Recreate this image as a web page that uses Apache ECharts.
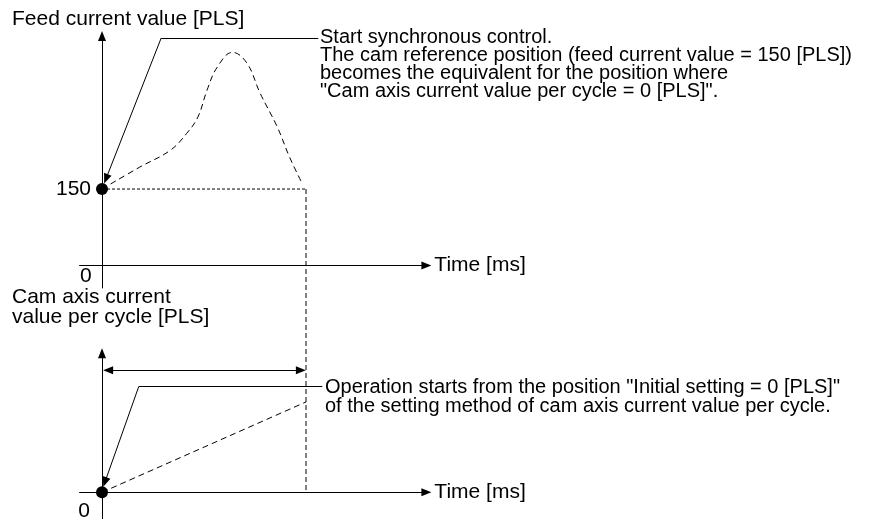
<!DOCTYPE html>
<html>
<head>
<meta charset="utf-8">
<script src="https://cdn.jsdelivr.net/npm/echarts@6/dist/echarts.min.js"></script>
<style>
  html, body { margin: 0; padding: 0; background: #fff; }
  #chart { width: 890px; height: 519px; }
</style>
</head>
<body>
<div id="chart"></div>
<script>
// time of one cam cycle and the feed value where sync starts
var cycleTime = 200;
var feedStart = 150;

// feed current value (dashed curve, upper chart)
var feedTime  = [0, 37, 67, 83, 94, 103, 113, 128, 142, 155, 172, 184, 196];
var feedValue = [150, 193, 226, 259, 291, 344, 389, 418, 397, 338, 271, 212, 162];

// cam axis current value per cycle (dashed line, lower chart)
var camTime  = [0, 200];
var camValue = [0, 100];

// tick labels
var feedTicks = [0, 150];
var camTicks = [0];

// callouts (data coords)
var feedNote = [[212, 446], [58, 446], [3.9, 170]];
var camNote = [[216, 117], [36, 117], [2.9, 11.4]];
var camSpan = [[6, 135], [195, 135]];

var FONT = 'Liberation Sans, Arial, sans-serif';
var black = '#000';

function zip(a, b) {
  var res = [];
  for (var i = 0; i < a.length; i++) res.push([a[i], b[i]]);
  return res;
}

function noteLines(pts) {
  return [
    [{ coord: pts[0], symbol: 'none' }, { coord: pts[1], symbol: 'none' }],
    [{ coord: pts[1], symbol: 'none' }, { coord: pts[2], symbol: 'triangle', symbolSize: [8, 10] }]
  ];
}

function axisX(grid) {
  return {
    type: 'value', gridIndex: grid, min: -22, max: 318,
    name: 'Time [ms]', nameLocation: 'end', nameGap: 8,
    nameTextStyle: { fontSize: 21, fontFamily: FONT, color: black, verticalAlign: 'middle' },
    axisLine: { onZero: true, symbol: ['none', 'triangle'], symbolSize: [8, 10], lineStyle: { color: black, width: 1 } },
    axisTick: { show: false }, axisLabel: { show: false }, splitLine: { show: false }
  };
}

function axisY(grid, min, max, zeroLabel) {
  return {
    type: 'value', gridIndex: grid, min: min, max: max,
    axisLine: { onZero: true, symbol: ['none', 'triangle'], symbolSize: [8, 10], lineStyle: { color: black, width: 1 } },
    axisTick: { show: false }, splitLine: { show: false },
    axisLabel: zeroLabel ? {
      show: true, customValues: [zeroLabel[0]], margin: -12, verticalAlign: 'top',
      fontSize: 21, fontFamily: FONT, color: black
    } : { show: false }
  };
}

var labelStyle = { fontSize: 21, fontFamily: FONT, color: black };

var chart = echarts.init(document.getElementById('chart'), null, { renderer: 'canvas' });

var option = {
  animation: false,
  backgroundColor: '#fff',
  grid: [
    { left: 79.56, top: 36, width: 346.8, height: 252, outerBoundsMode: 'none' },
    { left: 79.56, top: 353.2, width: 346.8, height: 166.2, outerBoundsMode: 'none' }
  ],
  xAxis: [axisX(0), axisX(1)],
  yAxis: [axisY(0, -44, 450, feedTicks), axisY(1, -30, 154, null)],
  graphic: [
    { type: 'text', x: 12, y: 19, style: { text: 'Feed current value [PLS]', font: '21px ' + FONT, fill: black, verticalAlign: 'middle' } },
    { type: 'text', x: 12, y: 287, style: { text: 'Cam axis current\nvalue per cycle [PLS]', font: '21px ' + FONT, fill: black, lineHeight: 20, verticalAlign: 'top' } },
    { type: 'text', x: 320, y: 28.7, style: {
      text: 'Start synchronous control.\nThe cam reference position (feed current value = 150 [PLS])\nbecomes the equivalent for the position where\n"Cam axis current value per cycle = 0 [PLS]".',
      font: '20px ' + FONT, fill: black, lineHeight: 18, verticalAlign: 'top' } },
    { type: 'text', x: 325, y: 377.5, style: {
      text: 'Operation starts from the position "Initial setting = 0 [PLS]"\nof the setting method of cam axis current value per cycle.',
      font: '20px ' + FONT, fill: black, lineHeight: 19, verticalAlign: 'top' } }
  ],
  series: [
    {
      type: 'line', xAxisIndex: 0, yAxisIndex: 0, smooth: 0.4, symbol: 'none',
      data: zip(feedTime, feedValue),
      lineStyle: { color: black, width: 1, type: [6, 4] },
      markLine: {
        silent: true, animation: false, label: { show: false },
        lineStyle: { color: black, width: 1, type: 'solid' },
        data: noteLines(feedNote)
      }
    },
    {
      type: 'line', xAxisIndex: 0, yAxisIndex: 0, symbol: 'none',
      data: [[0, feedStart], [cycleTime, feedStart]],
      lineStyle: { color: black, width: 1, type: [3, 2] }
    },
    {
      id: 'link', type: 'line', xAxisIndex: 0, yAxisIndex: 0, symbol: 'none', clip: false,
      data: [],
      lineStyle: { color: black, width: 1, type: [5, 3] }
    },
    {
      type: 'scatter', xAxisIndex: 0, yAxisIndex: 0, symbolSize: 12,
      itemStyle: { color: black, opacity: 1 },
      data: [[0, feedStart]],
      label: Object.assign({ show: true, position: 'left', distance: 5, formatter: String(feedTicks[1]) }, labelStyle)
    },
    {
      type: 'line', xAxisIndex: 1, yAxisIndex: 1, symbol: 'none',
      data: zip(camTime, camValue),
      lineStyle: { color: black, width: 1, type: [6, 4] },
      markLine: {
        silent: true, animation: false, label: { show: false },
        lineStyle: { color: black, width: 1, type: 'solid' },
        data: noteLines(camNote).concat([[
          { coord: camSpan[0], symbol: 'triangle', symbolSize: [8, 10] },
          { coord: camSpan[1], symbol: 'triangle', symbolSize: [8, 10] }
        ]])
      }
    },
    {
      type: 'scatter', xAxisIndex: 1, yAxisIndex: 1, symbolSize: 12,
      itemStyle: { color: black, opacity: 1 },
      data: [[0, 0]],
      label: Object.assign({ show: true, position: 'left', distance: 6, offset: [0, 19], formatter: String(camTicks[0]) }, labelStyle)
    }
  ]
};

chart.setOption(option);

// vertical dashed line from the end of the cycle in the upper chart down to the lower time axis
var bottomPx = chart.convertToPixel({ gridIndex: 1 }, [cycleTime, 0]);
var linkValue = chart.convertFromPixel({ gridIndex: 0 }, bottomPx)[1];
chart.setOption({ series: [{ id: 'link', data: [[cycleTime, feedStart], [cycleTime, linkValue]] }] });
</script>
</body>
</html>
